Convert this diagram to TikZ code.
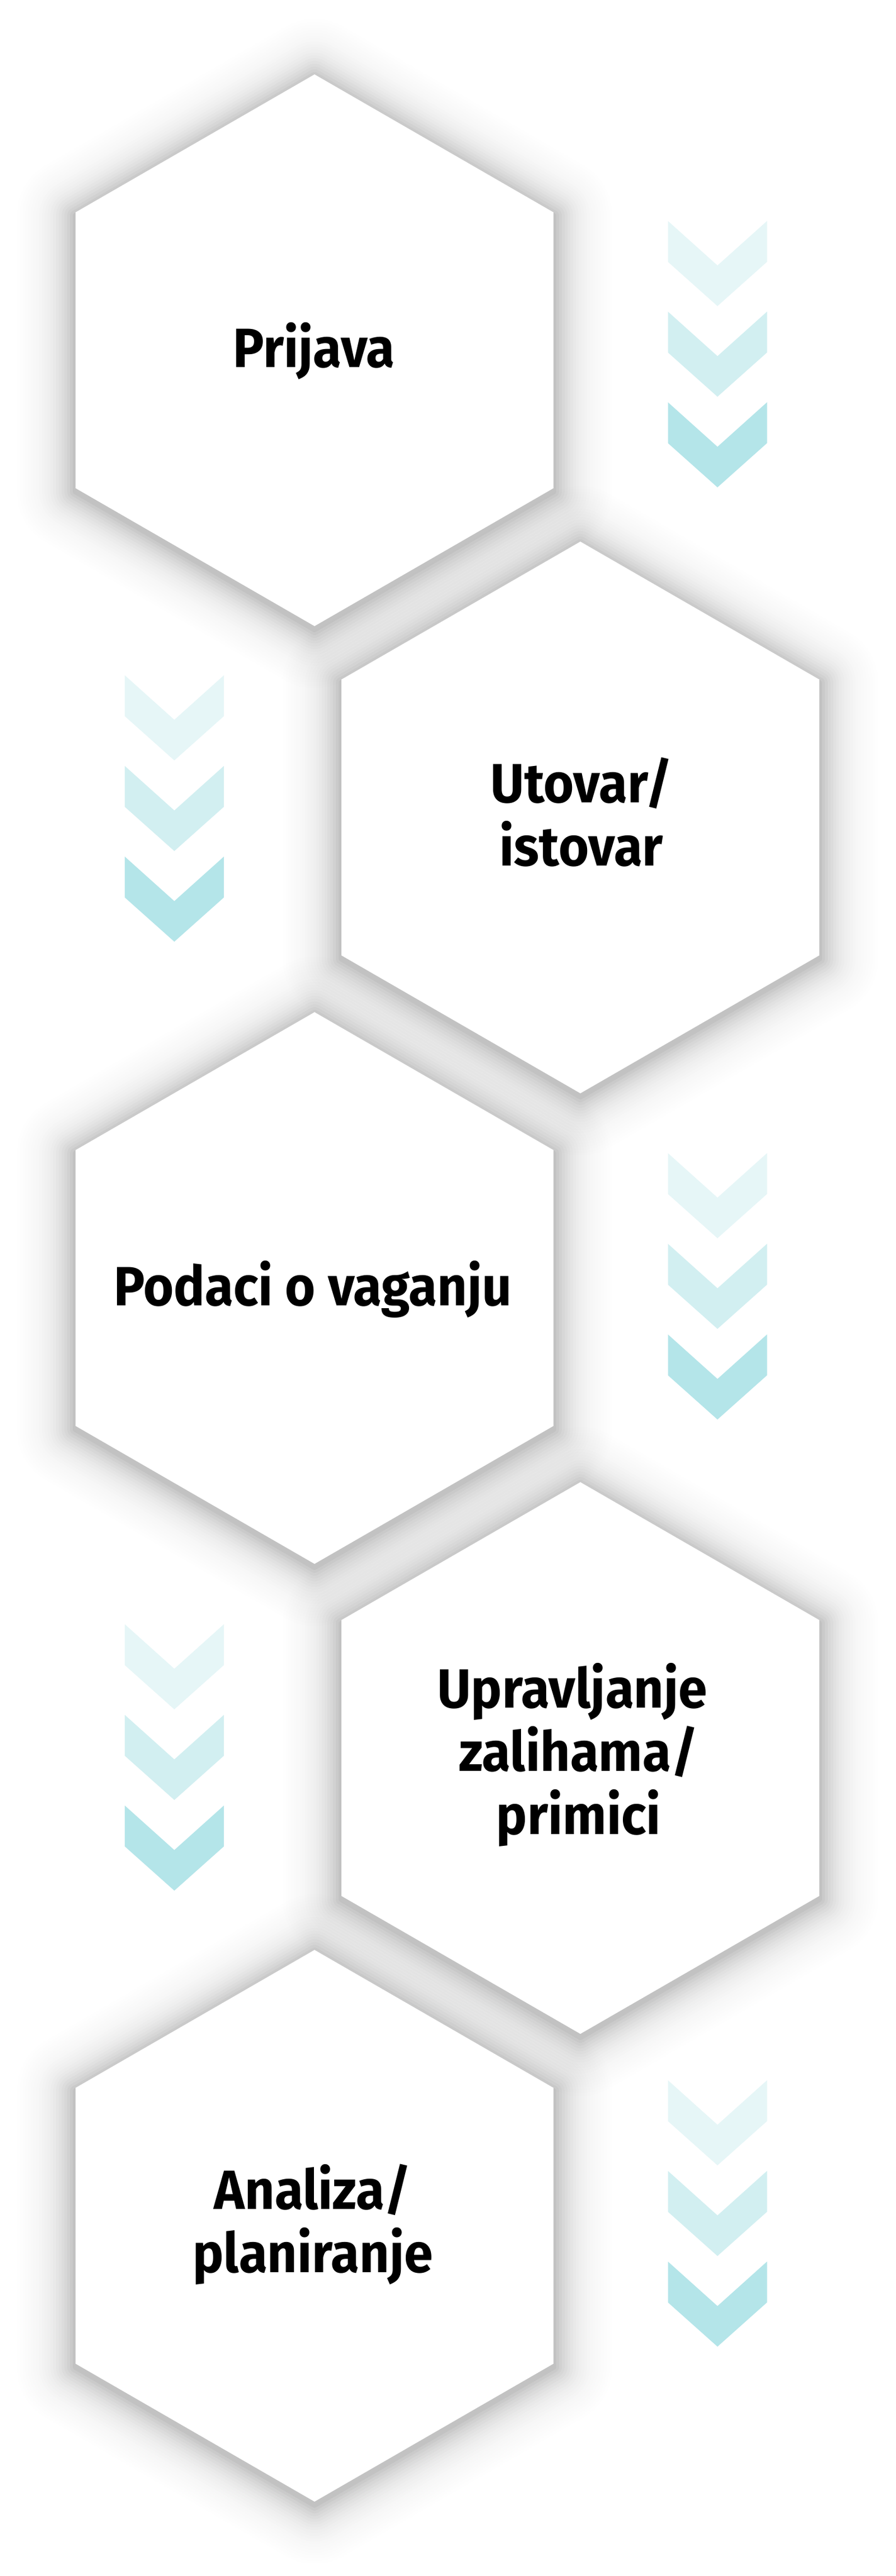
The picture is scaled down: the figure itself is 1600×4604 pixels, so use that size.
\documentclass[tikz,border=0pt]{standalone}
\usepackage{fontspec}
\setmainfont{Fira Sans}[FakeStretch=0.94]
\definecolor{chevA}{HTML}{E6F6F7}
\definecolor{chevB}{HTML}{D2EFF1}
\definecolor{chevC}{HTML}{B4E5E9}
\newcommand{\hexpath}{(90:493) -- (30:493) -- (-30:493) -- (-90:493) -- (-150:493) -- (150:493) -- cycle}
\tikzset{
  hexbody/.style={fill=white, draw=none},
  hexlabel/.style={font=\fontsize{24.7}{27}\selectfont\bfseries,
    text=black, inner sep=0pt, anchor=base},
  pics/hexshadow/.style={code={
    \foreach \k in {1,...,24}{
      \pgfmathsetmacro{\lw}{2*\k*5*0.25}
      \pgfmathsetmacro{\op}{0.032*exp(-(\k-1)/7.4)}
      \draw[black, line join=round, line width=\lw pt, opacity=\op]
        [yshift=-1.5pt] \hexpath;
    }}},
  pics/hexagon/.style={code={\path[hexbody] \hexpath;}},
  pics/chevron/.style={code={
    \fill[#1] (-88.5,0) -- (0,79.5) -- (88.5,0) -- (88.5,73)
      -- (0,152) -- (-88.5,73) -- cycle;}},
  pics/chevrons/.style={code={
    \pic at (0,0) {chevron=chevA};
    \pic at (0,162) {chevron=chevB};
    \pic at (0,324) {chevron=chevC};}}
}
\newcommand{\hexlines}[1]{\begin{tabular}[b]{@{}c@{}}#1\end{tabular}}
\begin{document}
\begin{tikzpicture}[x=0.25pt, y=-0.25pt]
  \useasboundingbox (0,0) rectangle (1600,4604);
  \fill[white] (0,0) rectangle (1600,4604);
  % shadows of the hexagons
  \foreach \cx/\cy in {562/626, 1037/1461, 562/2302, 1037/3142, 562/3978}
    \pic at (\cx,\cy) {hexshadow};
  % hexagons
  \pic at (562,626)  {hexagon};
  \pic at (1037,1461) {hexagon};
  \pic at (562,2302) {hexagon};
  \pic at (1037,3142) {hexagon};
  \pic at (562,3978) {hexagon};
  % chevrons
  \pic at (1282,395)  {chevrons};
  \pic at (311.5,1207) {chevrons};
  \pic at (1282,2061) {chevrons};
  \pic at (311.5,2903) {chevrons};
  \pic at (1282,3718) {chevrons};
  % labels
  \node[hexlabel] (t1) at (561,656)  {Prijava};
  \node[hexlabel] (t2) at (1039,1547) {\hexlines{Utovar/\\istovar}};
  \node[hexlabel] (t3) at (559,2333) {Podaci o vaganju};
  \node[hexlabel] (t4) at (1034,3278) {\hexlines{Upravljanje\kern0.23em\\zalihama/\\primici}};
  \node[hexlabel] (t5) at (559,4061) {\hexlines{Analiza/\\planiranje}};
\end{tikzpicture}
\end{document}
